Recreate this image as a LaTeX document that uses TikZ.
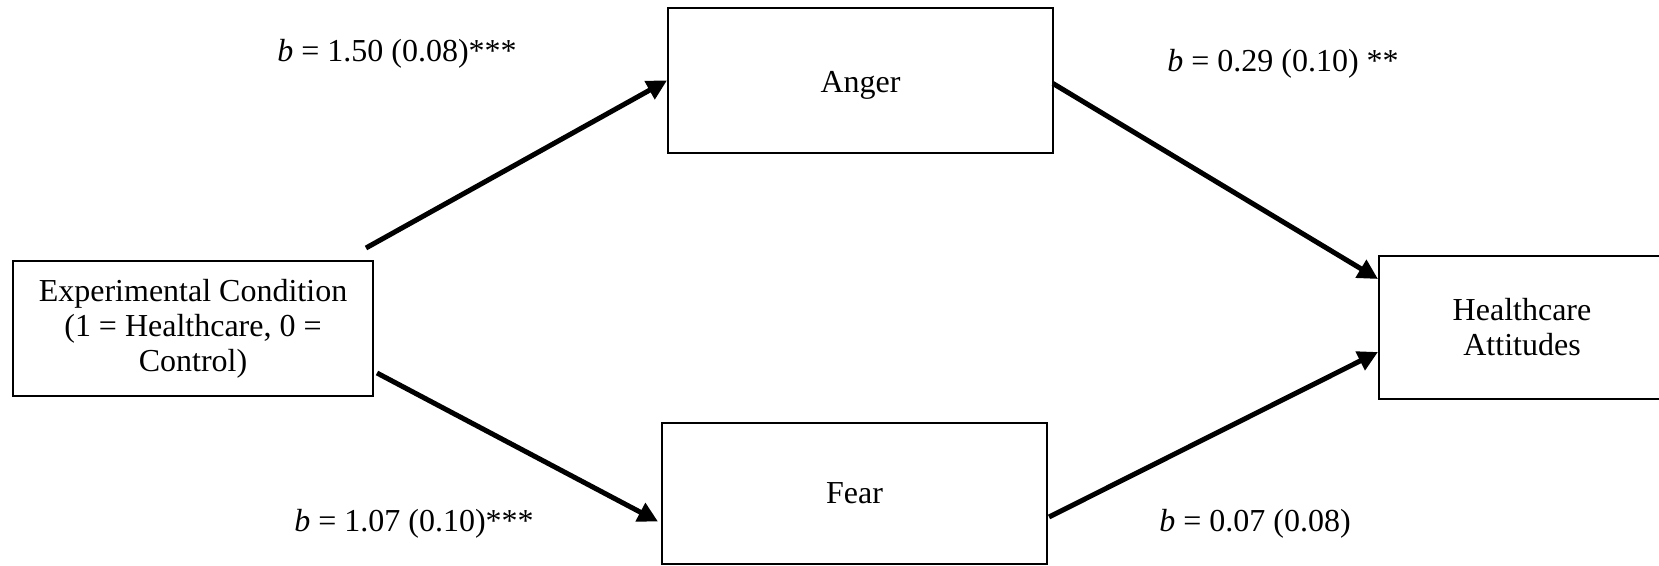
\documentclass[tikz,border=0pt]{standalone}
\usepackage{fontspec}
\setmainfont{Liberation Serif}
\usepackage{tikz}
\usetikzlibrary{arrows.meta,positioning,calc}

\begin{document}
\begin{tikzpicture}[
  x=0.5pt,y=-0.5pt,
  block/.style={rectangle,draw,line width=1pt,fill=white,align=center,
                font=\fontsize{16}{17.5}\selectfont,inner sep=2pt},
  coef/.style={anchor=base,font=\fontsize{16}{17.5}\selectfont,inner sep=0pt},
  arr/.style={-{Triangle[length=10pt,width=10pt]},line width=2.5pt}
]
  \useasboundingbox (0,0) rectangle (1659,566);

  \node[block,minimum width=180pt,minimum height=67.5pt] (exp) at (193,328.5)
    {Experimental Condition\\(1 = Healthcare, 0 =\\Control)};
  \node[block,minimum width=192.5pt,minimum height=72.5pt,text height=15pt,
        above right=53pt and 146.5pt of exp] (anger) {Anger};
  \node[block,minimum width=192.5pt,minimum height=70.5pt,
        below right=12.5pt and 143.5pt of exp] (fear) {Fear};
  \node[block,minimum width=143pt,minimum height=71.5pt,
        below right=50.5pt and 162pt of anger] (health) {Healthcare\\Attitudes};

  \draw[arr] ($(exp.north east)+(-8,-12)$) -- (anger.west);
  \draw[arr] ($(exp.south east)+(3,-24)$) -- ($(fear.west)+(-3,28)$);
  \draw[arr] ($(anger.east)+(-1,3)$) -- ($(health.north west)+(0,24)$);
  \draw[arr] ($(fear.east)+(1,23.5)$) -- ($(health.west)+(0,24.5)$);

  \node[coef] (c1) at (397,62)  {\textit{b} = 1.50 (0.08)***};
  \node[coef] (c2) at (1283,72) {\textit{b} = 0.29 (0.10) **};
  \node[coef] (c3) at (414,531) {\textit{b} = 1.07 (0.10)***};
  \node[coef] (c4) at (1255,531) {\textit{b} = 0.07 (0.08)};
\end{tikzpicture}
\end{document}
